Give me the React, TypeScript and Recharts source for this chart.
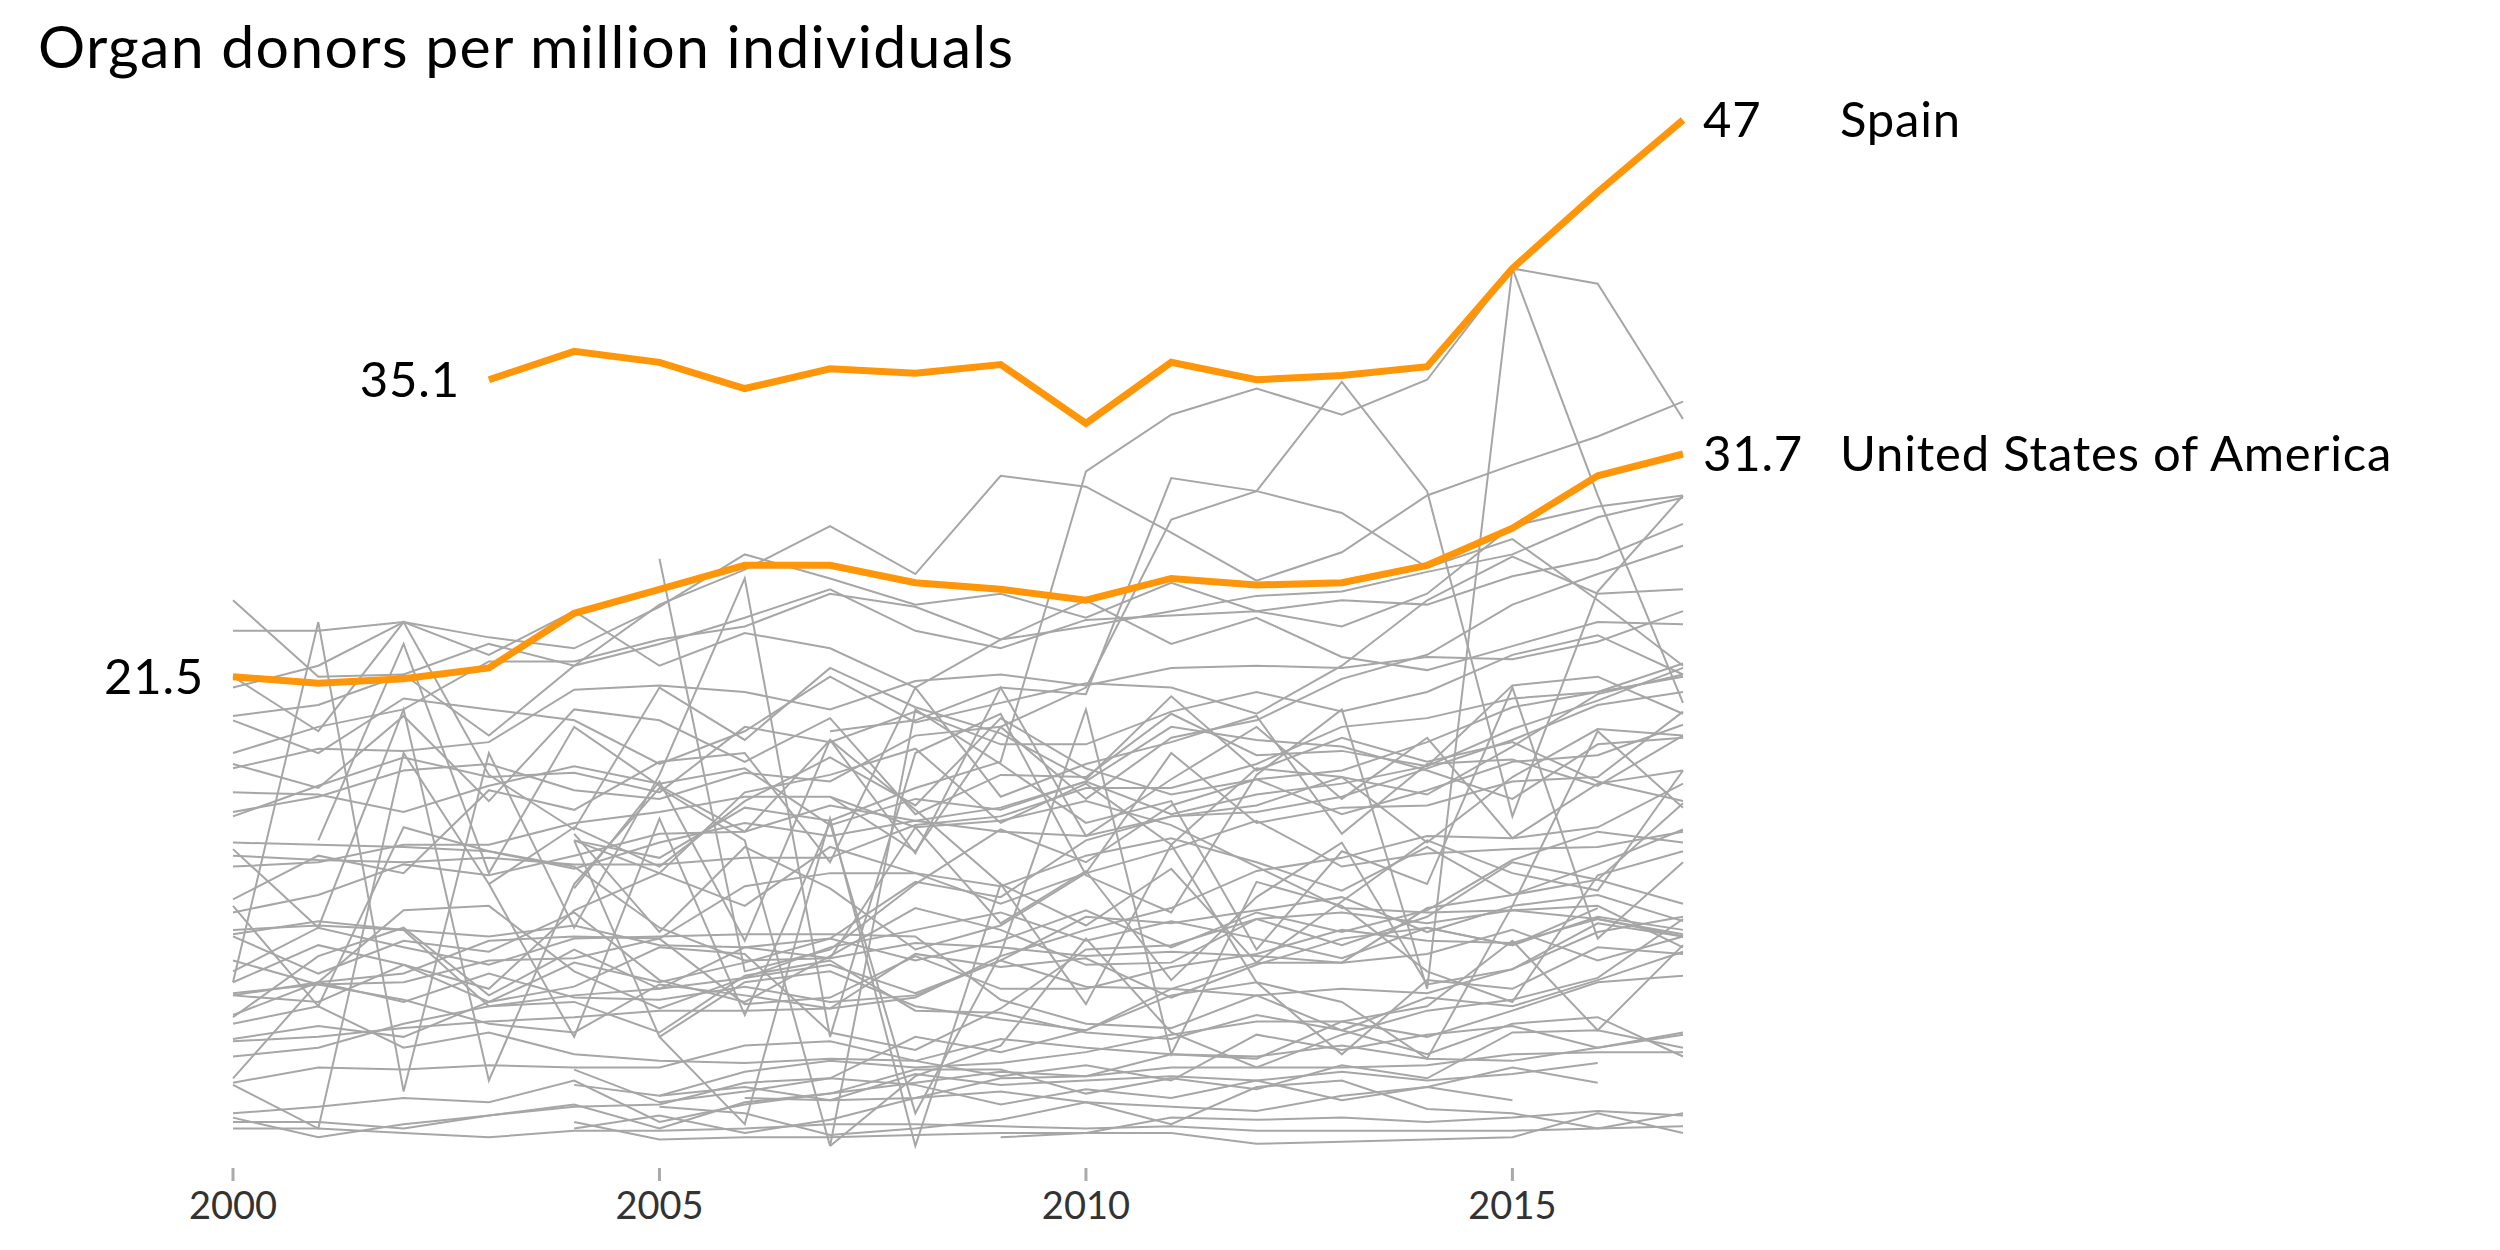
import { LineChart, Line, XAxis, YAxis } from "recharts";

const FONT = "Lato, 'Open Sans', sans-serif";
const ORANGE = "#ff9509";
const GRAY = "#a6a6a6";

const years = [2000, 2001, 2002, 2003, 2004, 2005, 2006, 2007, 2008, 2009, 2010, 2011, 2012, 2013, 2014, 2015, 2016, 2017];
const yearTicks = [2000, 2005, 2010, 2015];

const spain = [null, null, null, 35.1, 36.4, 35.9, 34.7, 35.6, 35.4, 35.8, 33.1, 35.9, 35.1, 35.3, 35.7, 40.2, 43.7, 47.0];
const usa = [21.5, 21.2, 21.4, 21.9, 24.4, 25.5, 26.6, 26.6, 25.8, 25.5, 25.0, 26.0, 25.7, 25.8, 26.6, 28.3, 30.7, 31.7];

// every other country, drawn in grey
const g01 = [null, null, null, null, 14.0, 13.2, 15.5, 14.9, 16.4, 17.6, 30.9, 33.5, 34.7, 33.5, 35.1, 40.2, 39.5, 33.3];
const g02 = [19.7, 20.2, 21.6, 23.0, 22.0, 24.8, 26.4, 28.4, 26.2, 30.7, 30.2, 28.1, 25.9, 27.2, 29.8, 31.2, 32.5, 34.1];
const g03 = [23.6, 23.6, 24.0, 23.3, 22.8, 24.7, 27.1, 26.0, 24.8, 25.3, 24.2, 25.8, 24.5, 25.0, 24.8, 26.1, 26.9, 28.5];
const g04 = [25.0, 21.5, 21.6, 18.8, 22.0, 23.0, 24.2, 25.5, 23.6, 22.8, 24.1, 24.3, 24.5, 23.8, 25.3, 28.4, 29.3, 29.8];
const g05 = [21.0, 22.0, 24.0, 22.5, 24.5, 22.0, 23.5, 22.8, 21.0, 23.2, 25.0, 23.0, 24.2, 22.4, 21.8, 22.9, 24.0, 23.9];
const g06 = [null, null, null, null, null, 26.9, 8.0, 9.0, 12.0, 14.5, 13.0, 15.6, 16.8, 17.2, 18.5, 20.1, 20.8, 22.1];
const g07 = [17.3, 18.2, 18.1, 18.5, 20.9, 21.1, 20.8, 20.0, 21.3, 21.6, 21.1, 21.9, 22.0, 21.9, 22.4, 22.3, 23.1, 24.5];
const g08 = [18.0, 19.2, 20.0, 22.2, 22.2, 23.2, 23.8, 25.3, 24.7, 23.2, 23.8, 24.5, 25.2, 25.4, 26.3, 27.1, 28.8, 29.7];
const g09 = [19.5, 18.0, 20.5, 20.0, 19.5, 17.5, 19.0, 21.5, 19.4, 20.3, 21.2, 21.0, 19.8, 22.0, 25.0, 27.0, 25.3, 25.5];
const g10 = [15.1, 16.5, 17.8, 16.9, 17.1, 16.2, 19.2, 18.5, 19.9, 18.4, 18.4, 19.9, 20.8, 19.9, 20.8, 22.5, 23.4, 21.6];
const g11 = [15.3, 16.0, 17.2, 17.5, 16.3, 15.9, 17.1, 16.7, 18.8, 19.2, 15.9, 18.7, 19.5, 21.4, 22.5, 24.8, 26.2, 27.5];
const g12 = [21.5, 19.0, 24.0, 17.0, 14.5, 21.0, 18.6, 21.9, 20.1, 18.9, 16.8, 20.6, 17.2, 18.7, 17.6, 18.5, 16.7, 15.8];
const g13 = [null, 14.0, 23.0, 12.5, 19.2, 16.5, 14.4, 18.6, 13.4, 21.0, 14.2, 16.8, 19.2, 15.9, 18.7, 14.1, 16.6, 17.2];
const g14 = [17.5, 16.4, 19.7, 15.8, 20.0, 19.5, 17.6, 19.6, 15.2, 17.0, 16.9, 19.8, 17.9, 18.1, 17.4, 21.1, 21.5, 19.8];
const g15 = [7.5, 24.0, 2.5, 18.0, 10.0, 17.0, 26.0, 5.0, 18.0, 19.8, 12.4, 10.7, 17.0, 20.0, 7.2, 40.2, 29.8, 20.3];
const g16 = [13.6, 10.0, 20.0, 3.0, 12.0, 16.4, 14.0, 0.0, 20.0, 17.5, 14.8, 15.8, 9.0, 13.5, 12.0, 21.0, 9.5, 13.0];
const g17 = [10.7, 11.5, 12.9, 12.4, 13.3, 14.3, 14.4, 15.6, 14.9, 15.5, 16.7, 15.2, 16.1, 16.6, 17.4, 19.1, 20.4, 21.9];
const g18 = [6.9, 7.5, 6.6, 7.9, 6.8, 6.7, 7.3, 6.6, 6.9, 8.5, 7.3, 7.2, 6.9, 7.2, 7.0, 8.1, 9.8, 10.5];
const g19 = [9.6, 7.9, 9.4, 8.9, 10.7, 7.6, 6.6, 8.7, 10.9, 9.9, 8.3, 8.4, 10.4, 9.2, 10.5, 13.0, 12.2, 11.1];
const g20 = [7.5, 9.2, 8.3, 7.2, 10.8, 12.5, 11.0, 13.7, 12.5, 11.9, 13.3, 14.1, 13.0, 11.7, 13.7, 11.5, 12.9, 14.5];
const g21 = [null, null, null, null, 14.0, 12.5, 16.2, 17.0, 18.2, 14.8, 16.6, 13.8, 17.3, 16.9, 13.9, 16.9, 19.1, 18.8];
const g22 = [5.9, 8.7, 10.0, 6.9, 9.0, 7.2, 7.7, 8.3, 7.0, 8.5, 10.5, 10.2, 10.8, 11.4, 9.8, 11.0, 11.5, 10.3];
const g23 = [3.1, 7.5, 10.8, 11.0, 8.0, 6.3, 7.7, 9.1, 9.9, 10.7, 9.4, 10.3, 9.5, 8.6, 10.0, 9.2, 10.5, 9.9];
const g24 = [2.8, 0.8, 18.0, 12.0, 5.0, 15.0, 6.0, 14.8, 1.5, 8.8, 20.0, 4.2, 12.1, 11.0, 8.0, 6.6, 12.4, 13.5];
const g25 = [null, null, null, null, 11.8, 16.7, 9.4, 18.6, 15.4, 12.0, 10.1, 12.7, 8.4, 11.2, 14.0, 12.5, 11.7, 17.2];
const g26 = [4.9, 5.5, 5.0, 6.6, 7.3, 9.1, 8.8, 5.2, 4.4, 6.3, 9.0, 9.2, 10.4, 10.7, 10.2, 10.8, 11.0, 9.1];
const g27 = [null, null, null, 12.0, 14.6, 12.8, 15.8, 17.8, 15.6, 19.6, 17.3, 16.1, 16.8, 15.2, 16.3, 17.6, 17.9, 19.3];
const g28 = [16.2, 16.1, 15.3, 16.5, 17.4, 16.6, 17.3, 14.7, 15.9, 15.4, 16.7, 19.2, 18.6, 18.3, 17.2, 15.9, 18.4, 18.7];
const g29 = [13.3, 13.1, 13.0, 13.2, 12.9, 12.9, 13.2, 13.2, 14.7, 15.1, 16.4, 16.4, 17.5, 19.2, 19.6, 20.5, 20.8, 21.5];
const g30 = [9.7, 10.3, 9.9, 9.6, 10.1, 9.2, 9.1, 9.5, 12.1, 11.4, 14.0, 15.1, 15.6, 16.9, 16.1, 18.3, 20.7, 21.6];
const g31 = [13.9, 13.8, 13.7, 13.5, 12.7, 13.9, 14.8, 14.2, 14.9, 14.4, 14.2, 15.1, 15.3, 16.0, 17.3, 18.6, 20.2, 20.8];
const g32 = [12.8, 13.0, 13.8, 13.8, 14.8, 15.3, 16.0, 16.0, 14.6, 14.9, 15.8, 14.7, 12.8, 10.9, 10.7, 10.8, 10.4, 9.7];
const g33 = [5.6, 6.4, 4.5, 5.2, 4.2, 3.9, 3.8, 4.0, 3.9, 4.9, 4.5, 4.2, 4.0, 5.7, 6.4, 9.4, 5.3, 9.2];
const g34 = [2.9, 3.6, 3.5, 3.7, 3.6, 3.6, 4.6, 4.8, 3.9, 3.2, 3.7, 3.0, 5.1, 4.4, 5.1, 5.5, 4.5, 5.2];
const g35 = [8.5, 7.4, 6.7, 5.6, 5.2, 7.4, 6.9, 6.3, 8.8, 8.2, 8.6, 6.8, 8.3, 9.5, 10.0, 9.2, 10.9, null];
const g36 = [6.9, 6.6, 8.3, 6.6, 8.4, 7.5, 8.4, 9.5, 8.5, 9.4, 10.8, 9.1, 10.7, 9.8, 10.8, 13.1, 14.4, 13.9];
const g37 = [11.3, 13.3, 12.5, 16.3, 15.4, 17.6, 18.0, 13.0, 21.0, 16.0, 17.5, 18.5, 19.7, 14.3, 17.5, 17.7, 16.5, 18.8];
const g38 = [null, null, null, null, 14.3, 9.8, 13.7, 11.8, 9.0, 10.1, 12.5, 18.0, 14.8, 15.5, 15.6, 16.7, 16.9, 19.9];
const g39 = [4.1, 4.5, 5.6, 6.4, 6.6, 5.2, 7.8, 8.5, 6.2, 6.1, 5.2, 4.9, 6.0, 5.3, 4.2, 5.6, 5.9, 4.1];
const g40 = [null, null, null, null, 2.8, 2.3, 3.4, 3.9, 3.6, 3.8, 4.3, 5.1, 5.7, 5.7, 5.0, 6.2, 7.5, 7.8];
const g41 = [null, null, null, null, 0.8, 1.4, 0.6, 1.2, 2.2, 2.5, 2.0, 1.0, 2.7, 3.0, 1.7, 1.5, 0.8, 1.5];
const g42 = [1.3, 0.4, 1.0, 1.4, 1.9, 0.8, 2.0, 2.4, 3.5, 3.5, 2.4, 3.1, 2.6, 3.7, 3.1, 5.2, 5.3, 4.5];
const g43 = [0.8, 0.8, 0.6, 0.4, 0.7, 0.7, 0.8, 1.0, 1.0, 0.9, 0.8, 0.9, 0.7, 0.7, 0.7, 0.7, 0.8, 0.9];
const g44 = [null, null, null, null, null, 2.3, 2.7, 2.1, 3.3, 2.8, 3.0, 3.2, 3.0, 3.4, 3.0, 3.3, 3.8, null];
const g45 = [1.1, 1.1, 0.8, 1.4, 1.8, 1.9, 2.9, 3.1, 5.0, 4.3, 5.3, 7.2, 8.4, 8.4, 8.8, 9.9, 8.5, 9.6];
const g46 = [null, null, null, null, 14.0, 5.0, 1.0, 15.0, 0.0, 12.0, 6.5, 13.8, 7.5, 6.6, 4.0, 11.0, 19.0, 15.5];
const g47 = [null, null, null, null, null, null, null, 0.0, 3.2, 4.6, 9.5, 5.2, 3.6, 5.1, 6.2, 6.7, 7.7, 10.4];
const g48 = [6.0, 7.5, 7.9, 9.4, 9.6, 9.5, 11.9, 12.5, 12.5, 11.1, 12.5, 13.6, 14.9, 12.8, 13.4, 13.6, 13.7, 14.4];
const g49 = [4.8, 5.0, 5.4, 5.7, 5.9, 6.2, 6.2, 6.3, 6.8, 8.7, 9.9, 10.9, 12.6, 13.2, 14.2, 14.1, 14.6, 16.6];
const g50 = [8.0, 10.0, 9.1, 8.3, 9.5, 9.6, 9.7, 9.7, 9.6, 6.7, 5.6, 5.4, 6.9, 5.3, 6.8, 6.4, 7.6, 8.9];
const g51 = [7.0, 7.4, 7.5, 8.5, 8.6, 9.5, 6.5, 6.8, 8.7, 7.2, 7.2, 8.2, 8.8, 9.9, 9.4, 9.3, 10.4, 9.6];
const g52 = [null, null, null, null, null, null, 2.2, 2.1, 2.2, 3.1, 3.2, 3.6, 3.6, 3.6, 3.7, 4.2, 4.3, 4.3];
const g53 = [11.0, 6.4, 14.6, 13.5, 12.8, 10.0, 8.5, 8.6, 14.6, 10.2, 12.6, 7.6, 11.4, 13.9, 7.4, 8.1, 10.2, 9.6];
const g54 = [9.9, 10.1, 9.9, 6.4, 6.9, 7.2, 9.1, 8.6, 9.3, 9.1, 8.7, 8.9, 8.7, 8.4, 10.9, 11.5, 12.2, 15.7];
const g55 = [null, null, null, null, 1.1, 0.3, 0.4, 0.4, 0.5, 0.6, 0.6, 1.3, 1.2, 1.3, 1.1, 1.3, 1.6, 1.4];
const g56 = [null, null, null, null, null, null, null, null, null, 0.4, 0.6, 0.6, 0.1, 0.2, 0.3, 0.4, 1.5, 0.6];
const g57 = [null, null, null, null, null, null, null, 19.0, 19.5, 21.0, 20.7, 30.6, 30.0, 29.0, 26.5, 27.8, 25.0, 22.0];
const g58 = [null, null, null, null, null, null, null, 16.0, 13.5, 19.2, 21.0, 28.7, 30.0, 35.0, 30.0, 15.1, 25.4, 29.8];
const g59 = [null, null, null, null, 3.5, 2.0, 2.5, 3.1, 2.8, 1.9, 2.6, 2.2, 3.0, 2.1, 2.7, 3.6, 2.9, null];
const g60 = [null, null, null, null, null, 1.8, 1.5, 0.5, 0.8, 1.2, 2.0, 1.8, 1.6, 2.3, 2.7, 2.1, null, null];
const g61 = [null, null, null, null, null, 5.0, 7.5, 8.0, 6.4, 5.8, 5.3, 6.9, 7.5, 4.2, 7.6, 7.2, 9.1, 8.8];
const g62 = [1.5, 1.8, 2.2, 2.0, 3.0, 1.1, 1.9, 2.4, 2.9, 3.4, 3.2, 4.2, 4.1, 4.6, 4.0, 3.9, 4.5, 5.1];

const greyLines = [
	g01, g02, g03, g04, g05, g06, g07, g08, g09, g10, g11, g12, g13, g14, g15, g16, g17, g18, g19, g20,
	g21, g22, g23, g24, g25, g26, g27, g28, g29, g30, g31, g32, g33, g34, g35, g36, g37, g38, g39, g40,
	g41, g42, g43, g44, g45, g46, g47, g48, g49, g50, g51, g52, g53, g54, g55, g56, g57, g58, g59, g60,
	g61, g62,
];

const rows = years.map((year, i) => {
	const row: Record<string, number | null> = { year, spain: spain[i], usa: usa[i] };
	greyLines.forEach((s, k) => {
		row[`g${k}`] = s[i];
	});
	return row;
});

function YearTick({ x, y, payload }: any) {
	return (
		<g>
			<rect x={x - 1.5} y={y + 22} width={3} height={13} fill='#aaaaaa' />
			<text x={x} y={y + 73} textAnchor='middle' fill='#333333' fontSize={38} fontFamily={FONT}>
				{payload.value}
			</text>
		</g>
	);
}

// value at the first point, value and name at the last point
const endLabels = (name: string, series: (number | null)[]) => (props: any) => {
	const { x, y, index, value } = props;
	const first = series.findIndex(v => v != null);
	const last = series.length - 1;
	const textProps = { fontSize: 49, fontFamily: FONT, fill: "#000", letterSpacing: 0.8 };
	if (index === first) {
		return (
			<text key={`s-${name}`} x={x - 29} y={y} dy='0.35em' textAnchor='end' {...textProps}>
				{value}
			</text>
		);
	}
	if (index === last) {
		return (
			<g key={`e-${name}`}>
				<text x={x + 20} y={y} dy='0.35em' {...textProps}>
					{value}
				</text>
				<text x={x + 157} y={y} dy='0.35em' {...textProps}>
					{name}
				</text>
			</g>
		);
	}
	return <g key={`n-${name}-${index}`} />;
};

export default function App() {
	return (
		<div style={{ position: "absolute", left: 0, top: 0, width: 2500, height: 1250, background: "#fff" }}>
			<LineChart
				width={2500}
				height={1250}
				data={rows}
				margin={{ top: 120, right: 817, bottom: 44, left: 233 }}>
				<XAxis
					dataKey='year'
					type='number'
					domain={[2000, 2017]}
					ticks={yearTicks}
					interval={0}
					axisLine={false}
					tickLine={false}
					tickSize={0}
					tickMargin={0}
					height={60}
					tick={<YearTick />}
				/>
				<YAxis hide domain={[0, 47]} />
				{greyLines.map((_, k) => (
					<Line
						key={`g${k}`}
						dataKey={`g${k}`}
						stroke={GRAY}
						strokeWidth={2}
						dot={false}
						activeDot={false}
						isAnimationActive={false}
					/>
				))}
				<Line
					dataKey='usa'
					stroke={ORANGE}
					strokeWidth={7}
					dot={false}
					activeDot={false}
					isAnimationActive={false}
					label={endLabels("United States of America", usa)}
				/>
				<Line
					dataKey='spain'
					stroke={ORANGE}
					strokeWidth={7}
					dot={false}
					activeDot={false}
					isAnimationActive={false}
					label={endLabels("Spain", spain)}
				/>
			</LineChart>
			<svg width={2500} height={120} style={{ position: "absolute", left: 0, top: 0 }}>
				<text x={38} y={68} fontSize={59} letterSpacing={1.3} fontFamily={FONT} fill='#000'>
					Organ donors per million individuals
				</text>
			</svg>
		</div>
	);
}
